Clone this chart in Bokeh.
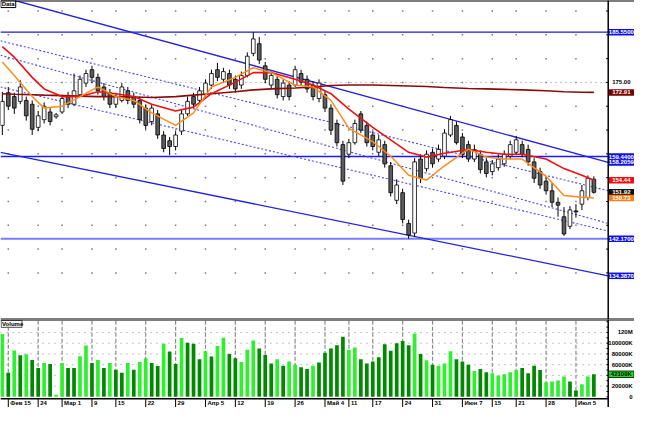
from bokeh.plotting import figure
from bokeh.layouts import column
from bokeh.models import Range1d, Span, ColumnDataSource
from bokeh.embed import file_html
from bokeh.resources import INLINE
from bokeh.core.properties import value

# ---------------- data ----------------
week_ticks = [0, 5, 9, 14, 18, 23, 28, 33, 38, 43, 48, 53, 57, 61, 66, 71, 76, 81, 85, 90, 95]
week_labels = ["Фев 15", "24", "Мар 1", "9", "15", "22", "29", "Апр 5", "12", "19", "26",
               "Май 4", "11", "17", "24", "31", "Июн 7", "15", "21", "28", "Июл 5"]

bar_index = list(range(-1, 99))

opens = [165.98, 172.84, 172.03, 171.02, 171.22, 170.42, 165.57, 167.19, 168.80, 167.79,
         168.80, 172.03, 170.42, 172.43, 174.86, 177.68, 176.07, 174.05, 172.84, 170.42,
         171.22, 173.24, 172.03, 171.22, 169.61, 166.78, 168.40, 163.96, 162.75, 161.54,
         164.77, 168.40, 172.03, 171.22, 172.43, 174.45, 177.68, 175.66, 176.87, 175.66,
         174.45, 176.47, 181.11, 183.13, 178.49, 174.45, 175.66, 172.03, 174.45, 174.45,
         176.87, 175.66, 174.45, 171.63, 172.43, 169.61, 166.38, 161.94, 159.92, 162.34,
         168.40, 165.98, 163.96, 160.33, 161.94, 157.50, 150.24, 151.85, 145.39, 143.37,
         158.91, 156.89, 160.33, 158.91, 159.52, 163.96, 165.98, 163.55, 161.94, 158.91,
         159.92, 158.31, 156.29, 157.10, 157.90, 159.52, 160.33, 161.94, 160.93, 158.31,
         156.29, 154.27, 152.25, 149.83, 146.80, 144.79, 148.02, 149.43, 150.84, 154.68]
highs = [173.04, 174.05, 172.84, 175.46, 172.03, 171.22, 169.00, 170.82, 169.61, 168.60,
         172.43, 173.04, 176.87, 176.47, 177.68, 178.49, 176.87, 174.86, 173.64, 172.84,
         174.86, 174.05, 172.84, 172.03, 170.42, 170.42, 169.20, 164.77, 163.55, 164.77,
         169.20, 172.03, 172.84, 174.05, 175.66, 177.68, 179.09, 178.08, 177.68, 176.47,
         177.28, 181.31, 185.55, 184.54, 179.29, 177.28, 176.47, 175.66, 175.26, 178.49,
         177.68, 176.47, 175.26, 175.66, 173.24, 170.42, 167.19, 162.75, 163.15, 167.19,
         169.00, 166.78, 164.77, 163.96, 162.75, 158.31, 154.68, 152.66, 146.20, 159.11,
         159.92, 160.73, 161.13, 161.94, 165.17, 167.99, 166.78, 164.36, 162.75, 161.94,
         160.73, 159.11, 158.71, 159.92, 160.73, 162.75, 163.76, 162.75, 161.94, 159.11,
         157.10, 155.08, 153.87, 150.84, 148.82, 149.02, 149.43, 153.46, 155.48, 155.28]
lows = [163.96, 169.20, 168.40, 170.42, 166.98, 163.96, 164.77, 166.38, 165.98, 167.39,
        168.40, 169.61, 170.01, 172.03, 174.05, 174.86, 172.43, 171.22, 169.61, 169.61,
        170.82, 170.42, 169.61, 166.38, 165.17, 165.98, 163.15, 160.33, 159.72, 160.73,
        163.96, 167.99, 169.61, 170.42, 172.03, 173.64, 175.26, 174.86, 173.64, 172.84,
        173.64, 176.07, 180.51, 178.89, 174.86, 173.64, 171.63, 171.22, 171.22, 174.05,
        174.45, 172.84, 171.22, 170.82, 168.80, 163.96, 161.54, 153.46, 159.11, 161.94,
        164.36, 161.54, 160.73, 159.52, 157.10, 151.04, 149.43, 145.39, 142.17, 142.57,
        153.87, 156.29, 157.10, 158.31, 158.91, 163.55, 161.94, 159.11, 158.31, 158.31,
        155.89, 155.08, 155.48, 156.49, 157.30, 158.91, 159.92, 159.32, 157.50, 153.87,
        152.66, 151.45, 148.82, 146.80, 142.77, 144.18, 146.60, 148.22, 150.24, 151.65]
closes = [171.02, 170.01, 169.61, 174.05, 167.99, 165.17, 167.99, 170.01, 166.78, 168.20,
          171.63, 170.42, 173.24, 175.66, 176.87, 176.07, 173.24, 172.03, 170.42, 172.03,
          174.05, 171.22, 170.42, 167.19, 165.98, 169.61, 163.96, 161.13, 161.54, 163.96,
          168.40, 171.02, 170.42, 173.24, 174.86, 176.87, 176.07, 177.28, 174.45, 173.64,
          176.47, 180.51, 184.14, 179.70, 175.66, 176.47, 172.43, 174.86, 172.03, 177.68,
          175.06, 173.64, 172.03, 174.86, 169.61, 164.97, 162.34, 154.27, 162.34, 166.38,
          164.97, 162.34, 161.54, 162.95, 157.90, 151.85, 153.46, 146.20, 142.97, 158.31,
          154.88, 159.92, 157.90, 160.93, 164.36, 167.19, 162.34, 159.92, 158.91, 160.93,
          156.69, 155.89, 157.90, 158.91, 159.92, 161.94, 162.95, 159.92, 158.31, 154.88,
          153.46, 152.25, 149.83, 149.23, 143.17, 148.22, 147.81, 152.25, 154.88, 151.92]

volumes_k = [117100, 45000, 86500, 77500, 79300, 68500, 54000, 63000, 61300, 4000,
             63000, 54000, 54000, 75700, 95500, 63000, 68500, 54000, 63000, 50500,
             45000, 63000, 50500, 64900, 72100, 63000, 57700, 99100, 84700, 61300,
             109900, 100900, 99100, 70000, 85000, 75000, 95000, 110000, 80000, 72000,
             65000, 88000, 105000, 90000, 78000, 62000, 70000, 58000, 66000, 60000,
             55000, 52000, 58000, 64000, 82000, 90000, 96000, 112000, 88000, 92000,
             70000, 62000, 66000, 74000, 98000, 86000, 100000, 104000, 96000, 118000,
             80000, 68000, 60000, 58000, 62000, 85000, 70000, 66000, 60000, 48000,
             52000, 46000, 44000, 40000, 42000, 46000, 50000, 54000, 44000, 58000,
             50000, 27000, 28800, 30600, 37800, 28800, 12000, 23400, 38000, 42100]
volume_up = [1, 0, 1, 0, 1, 0, 0, 1, 0, 1,
             1, 0, 0, 1, 1, 0, 1, 0, 1, 0,
             0, 1, 0, 1, 1, 0, 0, 1, 0, 0,
             1, 0, 0, 0, 1, 0, 1, 1, 0, 0,
             1, 1, 1, 0, 0, 0, 1, 0, 1, 1,
             0, 0, 1, 0, 0, 0, 0, 0, 1, 1,
             0, 0, 0, 0, 0, 0, 0, 0, 0, 1,
             0, 1, 0, 1, 1, 1, 0, 0, 0, 1,
             0, 0, 1, 1, 1, 1, 1, 0, 0, 0,
             0, 1, 1, 1, 1, 0, 0, 1, 1, 0]

ma_x = [-1, 1, 4, 6, 9, 12, 15, 18, 21, 24, 28, 31, 34, 38, 41, 44, 48, 51, 54, 57,
        61, 64, 67, 70, 73, 77, 80, 83, 86, 90, 93, 96, 98]
ma_fast = [179.29, 176.47, 172.03, 169.61, 170.01, 172.03, 174.05, 172.03, 171.22, 168.60,
           165.98, 168.60, 174.05, 176.06, 178.08, 177.07, 174.45, 174.05, 171.22, 165.37,
           162.55, 159.50, 155.50, 154.50, 157.50, 161.00, 159.32, 158.91, 158.91, 155.28,
           151.24, 150.90, 150.73]
ma_mid = [182.52, 180.30, 176.07, 173.64, 172.03, 172.03, 173.04, 172.63, 172.03, 170.42,
          169.00, 169.81, 172.63, 175.06, 177.07, 177.07, 175.66, 174.45, 172.63, 169.41,
          165.57, 162.95, 160.33, 159.32, 160.12, 160.93, 160.33, 159.92, 159.92, 158.91,
          156.90, 155.49, 154.44]
ma_slow = [172.63, 172.53, 172.43, 172.33, 172.23, 172.13, 172.03, 172.03, 171.93, 171.83,
           172.03, 172.33, 172.63, 173.04, 173.44, 173.64, 173.84, 174.05, 174.35, 174.45,
           174.45, 174.35, 174.25, 174.15, 173.95, 173.74, 173.64, 173.54, 173.44, 173.24,
           173.04, 172.94, 172.91]

# trend lines: (x0, y0, x1, y1) in bar index / price
trend_top = [1.14, 192.21, 100.4, 158.2059]
trend_bottom = [-1.31, 160.33, 100.4, 134.387]
trend_dotted = [[-1.31, 183.74, 100.4, 152.25],
                [-1.31, 180.71, 100.4, 145.39],
                [-1.31, 174.05, 100.4, 143.78]]
h_levels = [185.55, 159.44, 142.17]

price_ticks = [135, 140, 145, 150, 155, 160, 165, 170, 175, 180, 185, 190]
vol_ticks = [0, 20000, 40000, 60000, 80000, 100000, 120000]
vol_tick_labels = ["0", "20000K", "40000K", "60000K", "80000K", "100000K", "120M"]

# ---------------- layout ----------------
W = 634
H1, H2 = 319, 88
X0, X1 = -1.306, 104.8
AX = 100.4          # right axis line
LAB_X, LAB_W = 102.6, 4.24
F = value("Liberation Sans")
FS = "6px"

xr = Range1d(X0, X1)
P_LO, P_HI = 125.21, 192.21
V_LO, V_HI = -19820, 144144
V_AXIS = -3600


def base(h, yr):
    p = figure(width=W, height=h, x_range=xr, y_range=yr, output_backend="svg",
               toolbar_location=None, x_axis_type=None, y_axis_type=None, min_border=0)
    p.outline_line_color = None
    p.background_fill_color = "white"
    p.border_fill_color = "white"
    return p


p1 = base(H1, Range1d(P_LO, P_HI))

# grid dots
gx = [t for t in week_ticks for _ in price_ticks]
gy = [v for _ in week_ticks for v in price_ticks]
p1.scatter(gx, gy, marker="square", size=1.5, color="#7a7a7a", line_color=None)
p1.segment(X0, 175, AX, 175, line_color="#8a8a8a", line_dash="1 4", line_width=1)

# horizontal levels
lvl_col = ["#1a1ad6", "#1a1aff", "#7b7bff"]
lvl_w = [1.3, 1.6, 2.2]
for lv, c, w in zip(h_levels, lvl_col, lvl_w):
    p1.segment(X0, lv, AX, lv, line_color=c, line_width=w)

# trend channel
for t in (trend_top, trend_bottom):
    p1.line([t[0], t[2]], [t[1], t[3]], line_color="#2323d8", line_width=1.3)
for t in trend_dotted:
    p1.line([t[0], t[2]], [t[1], t[3]], line_color="#4a4af0", line_width=1.1, line_dash="2 2")

# candles
src = ColumnDataSource(dict(
    x=bar_index, h=highs, l=lows,
    top=[max(o, c) for o, c in zip(opens, closes)],
    bot=[min(o, c) for o, c in zip(opens, closes)],
    fill=["white" if c >= o else "#5c5c5c" for o, c in zip(opens, closes)]))
p1.segment("x", "h", "x", "l", source=src, line_color="black", line_width=1)
p1.vbar(x="x", top="top", bottom="bot", width=0.62, fill_color="fill",
        line_color="black", line_width=0.8, source=src)

# moving averages
p1.line(ma_x, ma_slow, line_color="#8b0a0a", line_width=1.6)
p1.line(ma_x, ma_mid, line_color="#f01010", line_width=1.6)
p1.line(ma_x, ma_fast, line_color="#ff8c1a", line_width=1.5)

# right axis
p1.add_layout(Span(location=AX, dimension="height", line_color="black", line_width=1.5))
p1.add_layout(Span(location=P_HI, dimension="width", line_color="black", line_width=2))
p1.add_layout(Span(location=P_LO, dimension="width", line_color="black", line_width=2))
p1.segment([AX - 0.35] * len(price_ticks), price_ticks, [AX] * len(price_ticks), price_ticks,
           line_color="black", line_width=1)

lab_vals = [h_levels[0], ma_slow[-1], h_levels[1], trend_top[3], ma_mid[-1],
            closes[-1], ma_fast[-1], h_levels[2], trend_bottom[3]]
lab_txt = ["%.4f" % h_levels[0], "%.2f" % ma_slow[-1], "%.4f" % h_levels[1],
           "%.4f" % trend_top[3], "%.2f" % ma_mid[-1], "%.2f" % closes[-1],
           "%.2f" % ma_fast[-1], "%.4f" % h_levels[2], "%.4f" % trend_bottom[3]]
lab_bg = ["#1010e0", "#7a0000", "#1010e0", "#1010e0", "#f01010", "#111111", "#ff7f10",
          "#1010e0", "#1010e0"]
n = len(lab_vals)
p1.rect([LAB_X] * n, lab_vals, width=LAB_W, height=6.5, height_units="screen",
        fill_color=lab_bg, line_color=None)
p1.text([LAB_X] * n, lab_vals, text=lab_txt, text_align="center", text_baseline="middle",
        text_font=F, text_font_size=FS, text_font_style="bold", text_color="white")
p1.text([LAB_X], [175], text=["175.00"], text_align="center", text_baseline="middle",
        text_font=F, text_font_size=FS, text_font_style="bold", text_color="black")

# "Data" tag
p1.rect([X0 + 1.3], [P_HI - 0.75], width=2.5, height=7, height_units="screen",
        fill_color="white", line_color="black", line_width=1)
p1.text([X0 + 0.2], [P_HI - 0.75], text=["Data"], text_baseline="middle",
        text_font=F, text_font_size=FS, text_font_style="bold", text_color="black")

# ---------------- volume ----------------
p2 = base(H2, Range1d(V_LO, V_HI))
p2.segment(week_ticks, [0] * len(week_ticks), week_ticks, [V_HI] * len(week_ticks),
           line_color="#8c8c8c", line_dash="4 2", line_width=1.2)
for v in vol_ticks[1:]:
    p2.segment(X0, v, AX, v, line_color="#8c8c8c", line_dash="1 5", line_width=1)

vsrc = ColumnDataSource(dict(x=bar_index, v=volumes_k,
                             c=["#2ef02e" if u else "#008a00" for u in volume_up]))
p2.vbar(x="x", top="v", bottom=0, width=0.62, fill_color="c", line_color=None, source=vsrc)

p2.segment(X0, V_AXIS, AX, V_AXIS, line_color="black", line_width=1.5)
p2.segment(week_ticks, [V_AXIS] * len(week_ticks), week_ticks, [V_LO] * len(week_ticks),
           line_color="black", line_width=1)
p2.text(week_ticks, [-12300] * len(week_ticks), text=week_labels, x_offset=2,
        text_baseline="middle", text_align="left", text_font=F, text_font_size=FS,
        text_font_style="bold", text_color="black")

p2.add_layout(Span(location=AX, dimension="height", line_color="black", line_width=1.5))
p2.add_layout(Span(location=V_HI, dimension="width", line_color="black", line_width=2))
minor = list(range(0, 140001, 10000))
p2.segment([AX - 0.3] * len(minor), minor, [AX] * len(minor), minor,
           line_color="black", line_width=1)
p2.text([104.5] * len(vol_ticks), vol_ticks, text=vol_tick_labels, text_align="right",
        text_baseline="middle", text_font=F, text_font_size=FS, text_font_style="bold",
        text_color="black")
p2.rect([LAB_X], [volumes_k[-1]], width=LAB_W, height=6.5, height_units="screen",
        fill_color="#19e019", line_color="black", line_width=0.8)
p2.text([LAB_X], [volumes_k[-1]], text=["%dK" % volumes_k[-1]], text_align="center",
        text_baseline="middle", text_font=F, text_font_size=FS, text_font_style="bold",
        text_color="black")

p2.rect([X0 + 1.85], [136000], width=3.5, height=7, height_units="screen",
        fill_color="#f4f4f4", line_color="#555555", line_width=1)
p2.text([X0 + 0.25], [136000], text=["Volume"], text_baseline="middle",
        text_font=F, text_font_size=FS, text_font_style="bold", text_color="black")

layout = column(p1, p2, spacing=0)
open("out.html", "w").write(file_html(layout, INLINE))
